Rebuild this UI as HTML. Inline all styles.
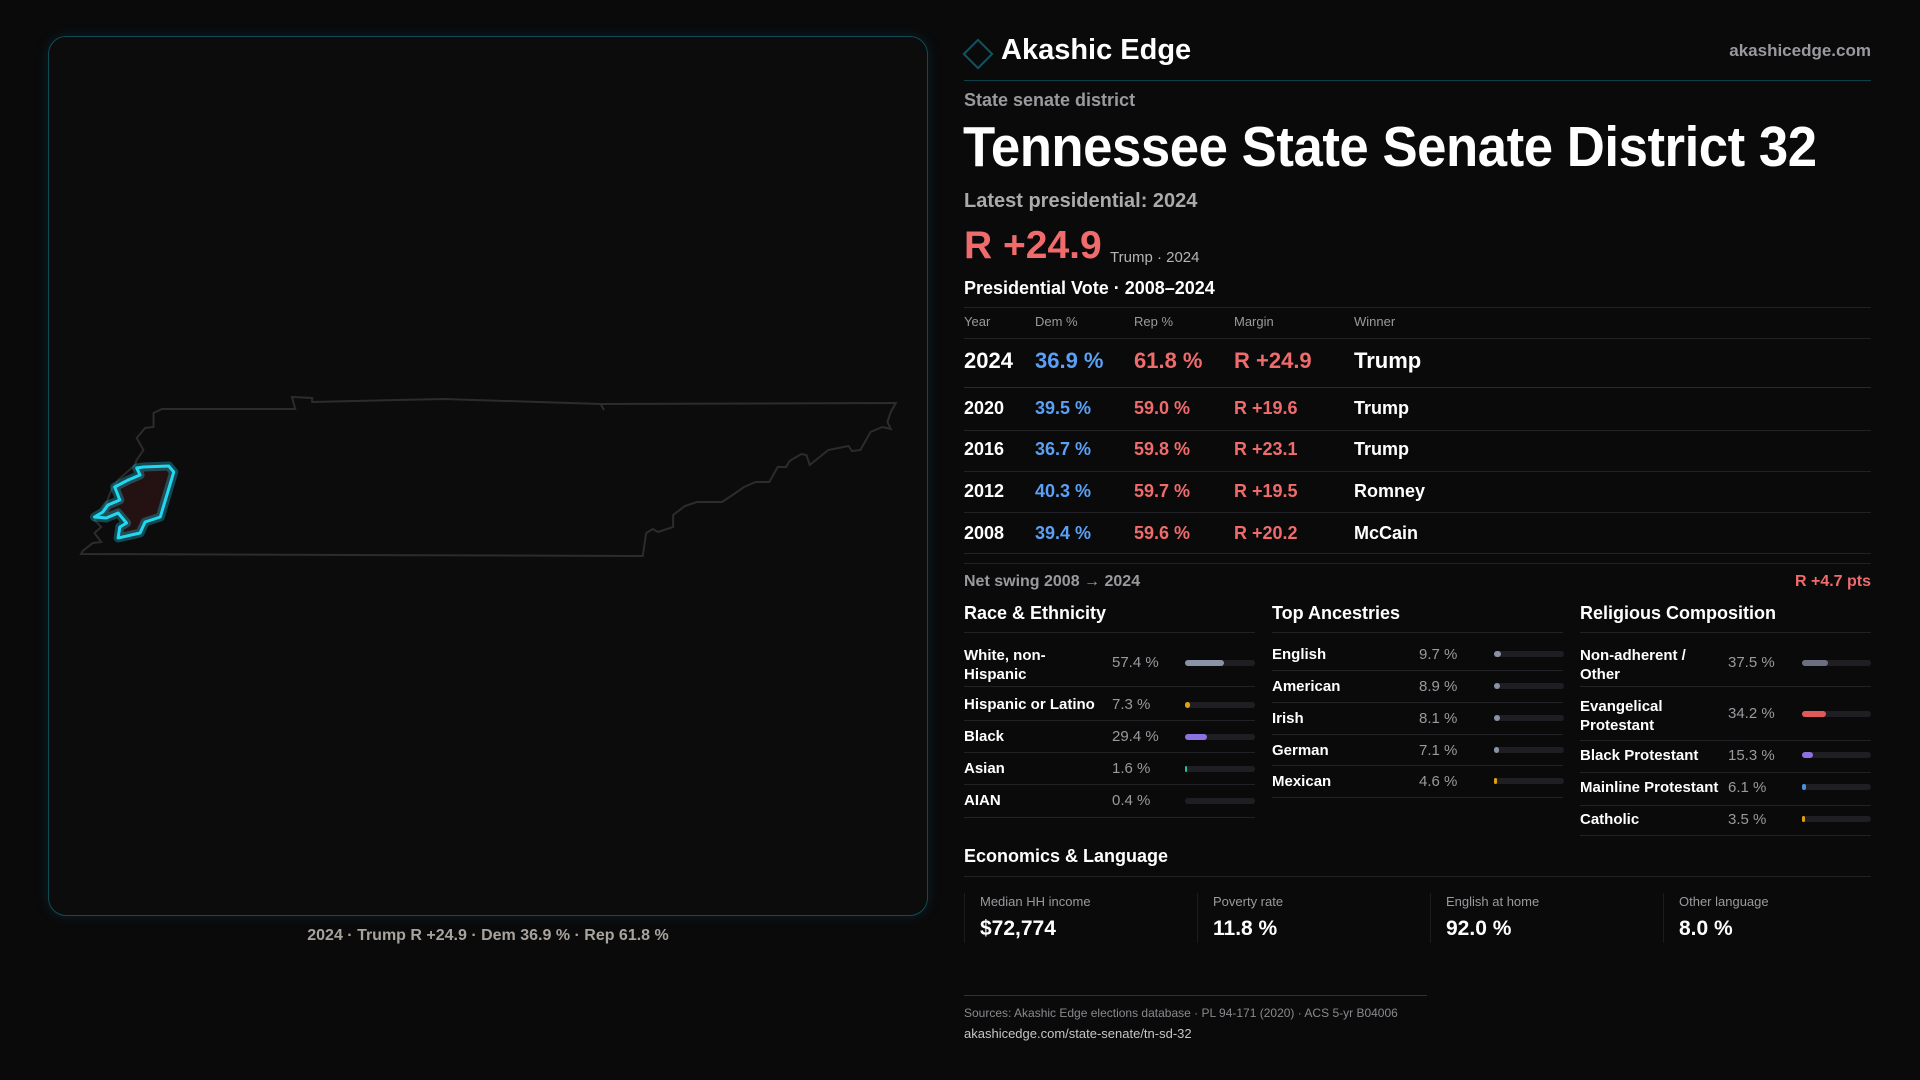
<!DOCTYPE html>
<html><head><meta charset="utf-8"><style>
*{margin:0;padding:0;box-sizing:border-box}
body{width:1920px;height:1080px;background:#0a0a0b;font-family:"Liberation Sans",sans-serif;color:#fff;position:relative;overflow:hidden}
.a{position:absolute;white-space:nowrap;line-height:1}
.g{color:#9a9a9e}
.red{color:#f06b6b}.blue{color:#5aa0f5}
.hl{position:absolute;height:1px;background:#222226}
.bar{position:absolute;height:6px;border-radius:3px;background:#1f1f23}
.bar i{display:block;height:6px;border-radius:3px}
</style></head><body>
<div style="position:absolute;left:48px;top:36px;width:880px;height:880px;border:1.5px solid #0f4c57;border-radius:18px;background:#0c0c0d;box-shadow:0 0 12px rgba(20,90,110,.25)"></div>
<svg style="position:absolute;left:0;top:0" width="1920" height="1080">
<g transform="translate(81 0) scale(1.687 1) translate(-65 0)">
<path vector-effect="non-scaling-stroke" d="M108,413 L113,409 L192,409 L190,397 L202,398 L202,402 L280,399 L373,404 L548,403 L545,412 L543,422 L545,429 L540,427 L533,432 L527,450 L522,451 L520,446 L508,450 L497,465 L495,455 L492,454 L485,461 L483,467 L478,467 L473,482 L465,482 L458,487 L453,493 L445,502 L430,502 L423,506 L416,515 L416,527 L407,532 L404,529 L400,533 L398,556 L65,554 L66,551 L72,543 L77,542 L73,533 L77,527 L73,520 L77,513 L80,503 L83,490 L87,480 L97,465 L98,460 L102,450 L98,438 L103,428 L108,427 Z" fill="#0c0c0d" stroke="#2c2c2e" stroke-width="2"/>
<path vector-effect="non-scaling-stroke" d="M373,404 L375,410" stroke="#2c2c2e" stroke-width="2"/>
<path vector-effect="non-scaling-stroke" d="M98,468 L102,467 L117,466 L120,472 L112,517 L103,522 L100,533 L87,538 L88,527 L92,523 L87,513 L80,518 L73,517 L78,512 L81,505 L88,500 L85,487 L93,480 L100,475 Z" fill="#241213" stroke="rgba(34,211,238,.3)" stroke-width="9" stroke-linejoin="round"/>
<path vector-effect="non-scaling-stroke" d="M98,468 L102,467 L117,466 L120,472 L112,517 L103,522 L100,533 L87,538 L88,527 L92,523 L87,513 L80,518 L73,517 L78,512 L81,505 L88,500 L85,487 L93,480 L100,475 Z" fill="none" stroke="#22d8f0" stroke-width="3" stroke-linejoin="round"/>
</g>
<rect x="968" y="44" width="20" height="20" transform="rotate(45 978 54)" fill="none" stroke="#0f5560" stroke-width="2"/>
</svg>
<div class="a" style="left:488px;top:928px;transform:translateX(-50%);font-size:16px;color:#a9a39d;font-weight:bold">2024 · Trump R +24.9 · Dem 36.9 % · Rep 61.8 %</div>

<div class="a" style="left:1001px;top:36px;font-size:29px;font-weight:bold">Akashic Edge</div>
<div class="a g" style="right:49px;top:42px;font-size:17px;font-weight:bold">akashicedge.com</div>
<div class="hl" style="left:964px;width:907px;top:80px;background:#0f3f47"></div>
<div class="a g" style="left:964px;top:91px;font-size:18px;font-weight:bold">State senate district</div>
<div class="a" style="left:963px;top:119px;font-size:57px;font-weight:bold;letter-spacing:-0.5px;transform-origin:0 0;transform:scaleX(0.925)">Tennessee State Senate District 32</div>
<div class="a" style="left:964px;top:191px;font-size:20px;font-weight:bold;color:#aaa">Latest presidential: 2024</div>
<div class="a red" style="left:964px;top:226px;font-size:39px;font-weight:bold">R +24.9</div>
<div class="a" style="left:1110px;top:250px;font-size:15px;color:#b5b5b5">Trump · 2024</div>
<div class="a" style="left:964px;top:279px;font-size:18px;font-weight:bold">Presidential Vote · 2008–2024</div>
<div class="hl" style="left:964px;width:907px;top:307px"></div>
<div class="a g" style="left:964px;top:315px;font-size:13px">Year</div>
<div class="a g" style="left:1035px;top:315px;font-size:13px">Dem %</div>
<div class="a g" style="left:1134px;top:315px;font-size:13px">Rep %</div>
<div class="a g" style="left:1234px;top:315px;font-size:13px">Margin</div>
<div class="a g" style="left:1354px;top:315px;font-size:13px">Winner</div>
<div class="hl" style="left:964px;width:907px;top:338px"></div>
<div class="a" style="left:964px;top:350px;font-size:22px;font-weight:bold">2024</div>
<div class="a blue" style="left:1035px;top:350px;font-size:22px;font-weight:bold">36.9 %</div>
<div class="a red" style="left:1134px;top:350px;font-size:22px;font-weight:bold">61.8 %</div>
<div class="a red" style="left:1234px;top:350px;font-size:22px;font-weight:bold">R +24.9</div>
<div class="a" style="left:1354px;top:350px;font-size:22px;font-weight:bold">Trump</div>
<div class="hl" style="left:964px;width:907px;top:387px;background:#2a2a2e"></div>

<div class="a" style="left:964px;top:399px;font-size:18px;font-weight:bold">2020</div><div class="a blue" style="left:1035px;top:399px;font-size:18px;font-weight:bold">39.5 %</div><div class="a red" style="left:1134px;top:399px;font-size:18px;font-weight:bold">59.0 %</div><div class="a red" style="left:1234px;top:399px;font-size:18px;font-weight:bold">R +19.6</div><div class="a" style="left:1354px;top:399px;font-size:18px;font-weight:bold">Trump</div>
<div class="hl" style="left:964px;width:907px;top:430px"></div>
<div class="a" style="left:964px;top:440px;font-size:18px;font-weight:bold">2016</div><div class="a blue" style="left:1035px;top:440px;font-size:18px;font-weight:bold">36.7 %</div><div class="a red" style="left:1134px;top:440px;font-size:18px;font-weight:bold">59.8 %</div><div class="a red" style="left:1234px;top:440px;font-size:18px;font-weight:bold">R +23.1</div><div class="a" style="left:1354px;top:440px;font-size:18px;font-weight:bold">Trump</div>
<div class="hl" style="left:964px;width:907px;top:471px"></div>
<div class="a" style="left:964px;top:482px;font-size:18px;font-weight:bold">2012</div><div class="a blue" style="left:1035px;top:482px;font-size:18px;font-weight:bold">40.3 %</div><div class="a red" style="left:1134px;top:482px;font-size:18px;font-weight:bold">59.7 %</div><div class="a red" style="left:1234px;top:482px;font-size:18px;font-weight:bold">R +19.5</div><div class="a" style="left:1354px;top:482px;font-size:18px;font-weight:bold">Romney</div>
<div class="hl" style="left:964px;width:907px;top:512px"></div>
<div class="a" style="left:964px;top:524px;font-size:18px;font-weight:bold">2008</div><div class="a blue" style="left:1035px;top:524px;font-size:18px;font-weight:bold">39.4 %</div><div class="a red" style="left:1134px;top:524px;font-size:18px;font-weight:bold">59.6 %</div><div class="a red" style="left:1234px;top:524px;font-size:18px;font-weight:bold">R +20.2</div><div class="a" style="left:1354px;top:524px;font-size:18px;font-weight:bold">McCain</div>
<div class="hl" style="left:964px;width:907px;top:553px"></div>
<div class="hl" style="left:964px;width:907px;top:563px"></div>
<div class="a g" style="left:964px;top:574px;font-size:16px;font-weight:bold">Net swing 2008 → 2024</div>
<div class="a red" style="right:49px;top:574px;font-size:16px;font-weight:bold">R +4.7 pts</div>

<div class="a" style="left:964px;top:604px;font-size:18px;font-weight:bold">Race &amp; Ethnicity</div>
<div class="a" style="left:1272px;top:604px;font-size:18px;font-weight:bold">Top Ancestries</div>
<div class="a" style="left:1580px;top:604px;font-size:18px;font-weight:bold">Religious Composition</div>
<div class="hl" style="left:964px;width:291px;top:632px"></div>
<div class="hl" style="left:1272px;width:291px;top:632px"></div>
<div class="hl" style="left:1580px;width:291px;top:632px"></div>

<div class="a" style="left:964px;top:646px;font-size:15px;font-weight:bold;line-height:19px">White, non-<br>Hispanic</div>
<div class="a g" style="left:1112px;top:655px;font-size:15px">57.4 %</div>
<div class="bar" style="left:1185px;top:660px;width:70px"><i style="width:39px;background:#8a93a6"></i></div>
<div class="hl" style="left:964px;width:291px;top:686px"></div>
<div class="a" style="left:964px;top:697px;font-size:15px;font-weight:bold">Hispanic or Latino</div>
<div class="a g" style="left:1112px;top:697px;font-size:15px">7.3 %</div>
<div class="bar" style="left:1185px;top:702px;width:70px"><i style="width:5px;background:#e0a010"></i></div>
<div class="hl" style="left:964px;width:291px;top:720px"></div>
<div class="a" style="left:964px;top:729px;font-size:15px;font-weight:bold">Black</div>
<div class="a g" style="left:1112px;top:729px;font-size:15px">29.4 %</div>
<div class="bar" style="left:1185px;top:734px;width:70px"><i style="width:22px;background:#8b72e0"></i></div>
<div class="hl" style="left:964px;width:291px;top:752px"></div>
<div class="a" style="left:964px;top:761px;font-size:15px;font-weight:bold">Asian</div>
<div class="a g" style="left:1112px;top:761px;font-size:15px">1.6 %</div>
<div class="bar" style="left:1185px;top:766px;width:70px"><i style="width:2px;background:#20c0a0"></i></div>
<div class="hl" style="left:964px;width:291px;top:784px"></div>
<div class="a" style="left:964px;top:793px;font-size:15px;font-weight:bold">AIAN</div>
<div class="a g" style="left:1112px;top:793px;font-size:15px">0.4 %</div>
<div class="bar" style="left:1185px;top:798px;width:70px"></div>
<div class="hl" style="left:964px;width:291px;top:817px"></div>

<div class="a" style="left:1272px;top:647px;font-size:15px;font-weight:bold">English</div><div class="a g" style="left:1419px;top:647px;font-size:15px">9.7 %</div><div class="bar" style="left:1494px;top:651px;width:70px"><i style="width:7px;background:#8a93a6"></i></div>
<div class="hl" style="left:1272px;width:291px;top:670px"></div>
<div class="a" style="left:1272px;top:679px;font-size:15px;font-weight:bold">American</div><div class="a g" style="left:1419px;top:679px;font-size:15px">8.9 %</div><div class="bar" style="left:1494px;top:683px;width:70px"><i style="width:6px;background:#8a93a6"></i></div>
<div class="hl" style="left:1272px;width:291px;top:702px"></div>
<div class="a" style="left:1272px;top:711px;font-size:15px;font-weight:bold">Irish</div><div class="a g" style="left:1419px;top:711px;font-size:15px">8.1 %</div><div class="bar" style="left:1494px;top:715px;width:70px"><i style="width:6px;background:#8a93a6"></i></div>
<div class="hl" style="left:1272px;width:291px;top:734px"></div>
<div class="a" style="left:1272px;top:743px;font-size:15px;font-weight:bold">German</div><div class="a g" style="left:1419px;top:743px;font-size:15px">7.1 %</div><div class="bar" style="left:1494px;top:747px;width:70px"><i style="width:5px;background:#8a93a6"></i></div>
<div class="hl" style="left:1272px;width:291px;top:765px"></div>
<div class="a" style="left:1272px;top:774px;font-size:15px;font-weight:bold">Mexican</div><div class="a g" style="left:1419px;top:774px;font-size:15px">4.6 %</div><div class="bar" style="left:1494px;top:778px;width:70px"><i style="width:3px;background:#e0a010"></i></div>
<div class="hl" style="left:1272px;width:291px;top:797px"></div>

<div class="a" style="left:1580px;top:646px;font-size:15px;font-weight:bold;line-height:19px">Non-adherent /<br>Other</div>
<div class="a g" style="left:1728px;top:655px;font-size:15px">37.5 %</div>
<div class="bar" style="left:1802px;top:660px;width:69px"><i style="width:26px;background:#6b7080"></i></div>
<div class="hl" style="left:1580px;width:291px;top:686px"></div>
<div class="a" style="left:1580px;top:697px;font-size:15px;font-weight:bold;line-height:19px">Evangelical<br>Protestant</div>
<div class="a g" style="left:1728px;top:706px;font-size:15px">34.2 %</div>
<div class="bar" style="left:1802px;top:711px;width:69px"><i style="width:24px;background:#e05a5a"></i></div>
<div class="hl" style="left:1580px;width:291px;top:740px"></div>
<div class="a" style="left:1580px;top:748px;font-size:15px;font-weight:bold">Black Protestant</div>
<div class="a g" style="left:1728px;top:748px;font-size:15px">15.3 %</div>
<div class="bar" style="left:1802px;top:752px;width:69px"><i style="width:11px;background:#8b72e0"></i></div>
<div class="hl" style="left:1580px;width:291px;top:772px"></div>
<div class="a" style="left:1580px;top:780px;font-size:15px;font-weight:bold">Mainline Protestant</div>
<div class="a g" style="left:1728px;top:780px;font-size:15px">6.1 %</div>
<div class="bar" style="left:1802px;top:784px;width:69px"><i style="width:4px;background:#4a90e0"></i></div>
<div class="hl" style="left:1580px;width:291px;top:805px"></div>
<div class="a" style="left:1580px;top:812px;font-size:15px;font-weight:bold">Catholic</div>
<div class="a g" style="left:1728px;top:812px;font-size:15px">3.5 %</div>
<div class="bar" style="left:1802px;top:816px;width:69px"><i style="width:3px;background:#e0a010"></i></div>
<div class="hl" style="left:1580px;width:291px;top:835px"></div>

<div class="a" style="left:964px;top:847px;font-size:18px;font-weight:bold">Economics &amp; Language</div>
<div class="hl" style="left:964px;width:907px;top:876px"></div>
<div style="position:absolute;left:964px;top:893px;width:1px;height:50px;background:#1c1c20"></div>
<div style="position:absolute;left:1197px;top:893px;width:1px;height:50px;background:#1c1c20"></div>
<div style="position:absolute;left:1430px;top:893px;width:1px;height:50px;background:#1c1c20"></div>
<div style="position:absolute;left:1663px;top:893px;width:1px;height:50px;background:#1c1c20"></div>
<div class="a g" style="left:980px;top:895px;font-size:13px">Median HH income</div><div class="a" style="left:980px;top:918px;font-size:21px;font-weight:bold">$72,774</div>
<div class="a g" style="left:1213px;top:895px;font-size:13px">Poverty rate</div><div class="a" style="left:1213px;top:918px;font-size:21px;font-weight:bold">11.8 %</div>
<div class="a g" style="left:1446px;top:895px;font-size:13px">English at home</div><div class="a" style="left:1446px;top:918px;font-size:21px;font-weight:bold">92.0 %</div>
<div class="a g" style="left:1679px;top:895px;font-size:13px">Other language</div><div class="a" style="left:1679px;top:918px;font-size:21px;font-weight:bold">8.0 %</div>

<div class="hl" style="left:964px;width:463px;top:995px;background:#0f3f47"></div>
<div class="a" style="left:964px;top:1007px;font-size:12px;color:#8a8a8e">Sources: Akashic Edge elections database · PL 94-171 (2020) · ACS 5-yr B04006</div>
<div class="a" style="left:964px;top:1027px;font-size:13px;color:#c5c5c8">akashicedge.com/state-senate/tn-sd-32</div>
</body></html>
